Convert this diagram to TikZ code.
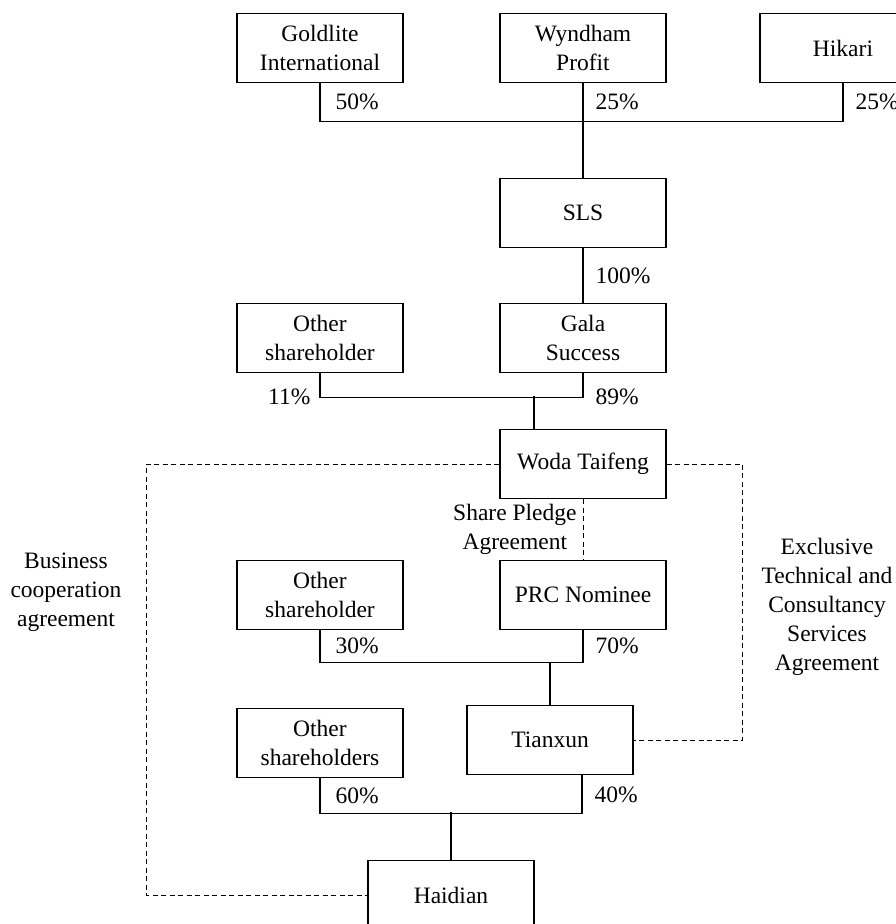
\documentclass[tikz,border=0pt]{standalone}
\usepackage{fontspec}
\setmainfont{Liberation Serif}
\usepackage{tikz}

\begin{document}
\begin{tikzpicture}[x=1pt,y=1pt,line width=1.1pt,font=\fontsize{23.5}{29}\selectfont]
		\tikzstyle{box} = [rectangle, draw, align=center, minimum width=166pt, minimum height=69pt, inner sep=0pt]
		\tikzstyle{pct} = [right, inner sep=0pt, xshift=12pt]
		\tikzstyle{pctl} = [left, inner sep=0pt, xshift=-9pt]
		\tikzstyle{agree} = [dash pattern=on 5pt off 3.5pt, line width=0.9pt]
		\useasboundingbox (0,0) rectangle (896,-924);
		\node (gold) [box] at (320,-48) {Goldlite\\International};
		\node (wynd) [box, right of=gold, node distance=263pt] {Wyndham\\Profit};
		\node (hik) [box, right of=wynd, node distance=260pt] {Hikari};
		\node (sls) [box, below of=wynd, node distance=165pt] {SLS};
		\node (gala) [box, below of=sls, node distance=125pt] {Gala\\Success};
		\node (oth1) [box, left of=gala, node distance=263pt] {Other\\shareholder};
		\node (woda) [box, below of=gala, node distance=126pt] {Woda Taifeng};
		\node (prc) [box, below of=woda, node distance=131pt] {PRC Nominee};
		\node (oth2) [box, left of=prc, node distance=263pt] {Other\\shareholder};
		\node (tian) [box, below of=prc, node distance=145pt, xshift=-33pt] {Tianxun};
		\node (oth3) [box, below of=oth2, node distance=148pt] {Other\\shareholders};
		\node (haid) [box, below of=tian, node distance=155pt, xshift=-99pt] {Haidian};
		\node (lbiz) [align=center] at (66,-592) {Business\\cooperation\\agreement};
		\node (lexcl) [align=center] at (827,-607) {Exclusive\\Technical and\\Consultancy\\Services\\Agreement};
		% top holders
		\draw (gold.south) -- node[pct, xshift=3pt] (l50) {50\%} ++(0,-38) -| (hik.south);
		\path (wynd.south) -- node[pct] (l25a) {25\%} ++(0,-38);
		\path (hik.south) -- node[pct] (l25b) {25\%} ++(0,-38);
		\draw (wynd) -- (sls);
		\draw (sls) -- node[pct] (l100) {100\%} (gala);
		% Woda Taifeng
		\draw (oth1.south) -- ++(0,-24) node[pctl] (l11) {11\%} -| (gala.south);
		\path (gala.south) -- ++(0,-24) node[pct] (l89) {89\%};
		\coordinate[xshift=-49pt] (j2) at (woda.north);
		\draw (j2) -- ++(0,33);
		% Tianxun
		\draw (oth2.south) -- node[pct, xshift=3pt] (l30) {30\%} ++(0,-32) -| (prc.south);
		\path (prc.south) -- node[pct] (l70) {70\%} ++(0,-32);
		\draw (tian.north) -- ++(0,43);
		% Haidian
		\coordinate[xshift=32pt] (j3) at (tian.south);
		\draw (oth3.south) -- node[pct, xshift=3pt] (l60) {60\%} ++(0,-35) -| (j3);
		\path (j3) -- node[pct] (l40) {40\%} ++(0,-39);
		\draw (haid.north) -- ++(0,48);
		% agreements
		\draw[agree] (woda) -- node[left, align=center, inner sep=6pt] (lsp) {Share Pledge\\Agreement} (prc);
		\draw[agree] (woda.west) -- ++(-353,0) |- (haid.west);
		\draw[agree] (woda.east) -- ++(76,0) |- (tian.east);
	\end{tikzpicture}
\end{document}
